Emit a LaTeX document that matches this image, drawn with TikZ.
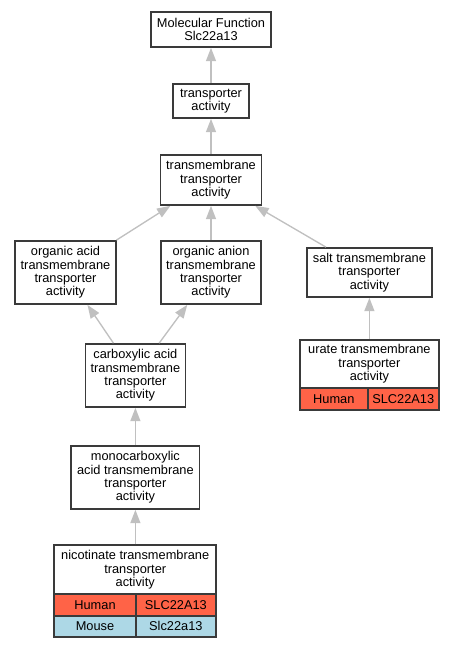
\documentclass[tikz,border=0pt]{standalone}
\usepackage{fontspec}
\setmainfont{Liberation Sans}
\usetikzlibrary{arrows.meta}
\definecolor{bordercol}{HTML}{3A3A3A}
\definecolor{edgecol}{HTML}{C0C0C0}
\definecolor{humancol}{HTML}{FF6347}
\definecolor{mousecol}{HTML}{ADD8E6}
\begin{document}
\begin{tikzpicture}[x=0.75pt,y=-0.75pt,
  box/.style={draw=bordercol, line width=1.3pt, fill=white, inner sep=0pt, align=center,
    font=\fontsize{9.6}{10}\selectfont},
  cell/.style={box},
  edge/.style={draw=edgecol, line width=1pt, -{Triangle[length=10pt,width=7.5pt]}}]
\fill[white] (0,0) rectangle (455,648);
\useasboundingbox (0,0) rectangle (455,648);

\node[box, minimum width=90pt, minimum height=26.25pt] (mf) at (211,29.5) {Molecular Function\\Slc22a13};
\node[box, minimum width=57pt, minimum height=25.5pt] (ta) at (211,101) {transporter\\activity};
\node[box, minimum width=75.75pt, minimum height=37.5pt] (tta) at (211,180) {transmembrane\\transporter\\activity};
\node[box, minimum width=75.75pt, minimum height=47.25pt] (oa) at (65.5,272.5) {organic acid\\transmembrane\\transporter\\activity};
\node[box, minimum width=75pt, minimum height=47.25pt] (oan) at (211,272.5) {organic anion\\transmembrane\\transporter\\activity};
\node[box, minimum width=93.75pt, minimum height=36.75pt] (salt) at (369.4,272.5) {salt transmembrane\\transporter\\activity};
\node[box, minimum width=75pt, minimum height=47.25pt] (carb) at (135.4,375.5) {carboxylic acid\\transmembrane\\transporter\\activity};
\node[box, minimum width=104pt, minimum height=36pt] (urate) at (369.4,364) {urate transmembrane\\transporter\\activity};
\node[cell, fill=humancol, minimum width=50.8pt, minimum height=16.5pt] (uh) at (333.8,399) {Human};
\node[cell, fill=humancol, minimum width=53.25pt, minimum height=16.5pt] (ug) at (403.2,399) {SLC22A13};
\node[box, minimum width=96.2pt, minimum height=47.25pt] (mono) at (135.4,477.5) {monocarboxylic\\acid transmembrane\\transporter\\activity};
\node[box, minimum width=121.3pt, minimum height=36.75pt] (nic) at (135.2,569.8) {nicotinate transmembrane\\transporter\\activity};
\node[cell, fill=humancol, minimum width=61pt, minimum height=16pt] (nh) at (95,605) {Human};
\node[cell, fill=humancol, minimum width=60.2pt, minimum height=16pt] (ng) at (175.85,605) {SLC22A13};
\node[cell, fill=mousecol, minimum width=61pt, minimum height=15.75pt] (nm) at (95,626.2) {Mouse};
\node[cell, fill=mousecol, minimum width=60.2pt, minimum height=15.75pt] (nmg) at (175.85,626.2) {Slc22a13};

\draw[edge] (ta) -- (mf);
\draw[edge] (tta) -- (ta);
\draw[edge] (oa) -- (tta);
\draw[edge] (oan) -- (tta);
\draw[edge] (salt) -- (tta);
\draw[edge] (carb) -- (oa);
\draw[edge] (carb) -- (oan);
\draw[edge] (urate) -- (salt);
\draw[edge] (mono) -- (carb);
\draw[edge] (nic.north -| mono.south) -- (mono);
\end{tikzpicture}
\end{document}
